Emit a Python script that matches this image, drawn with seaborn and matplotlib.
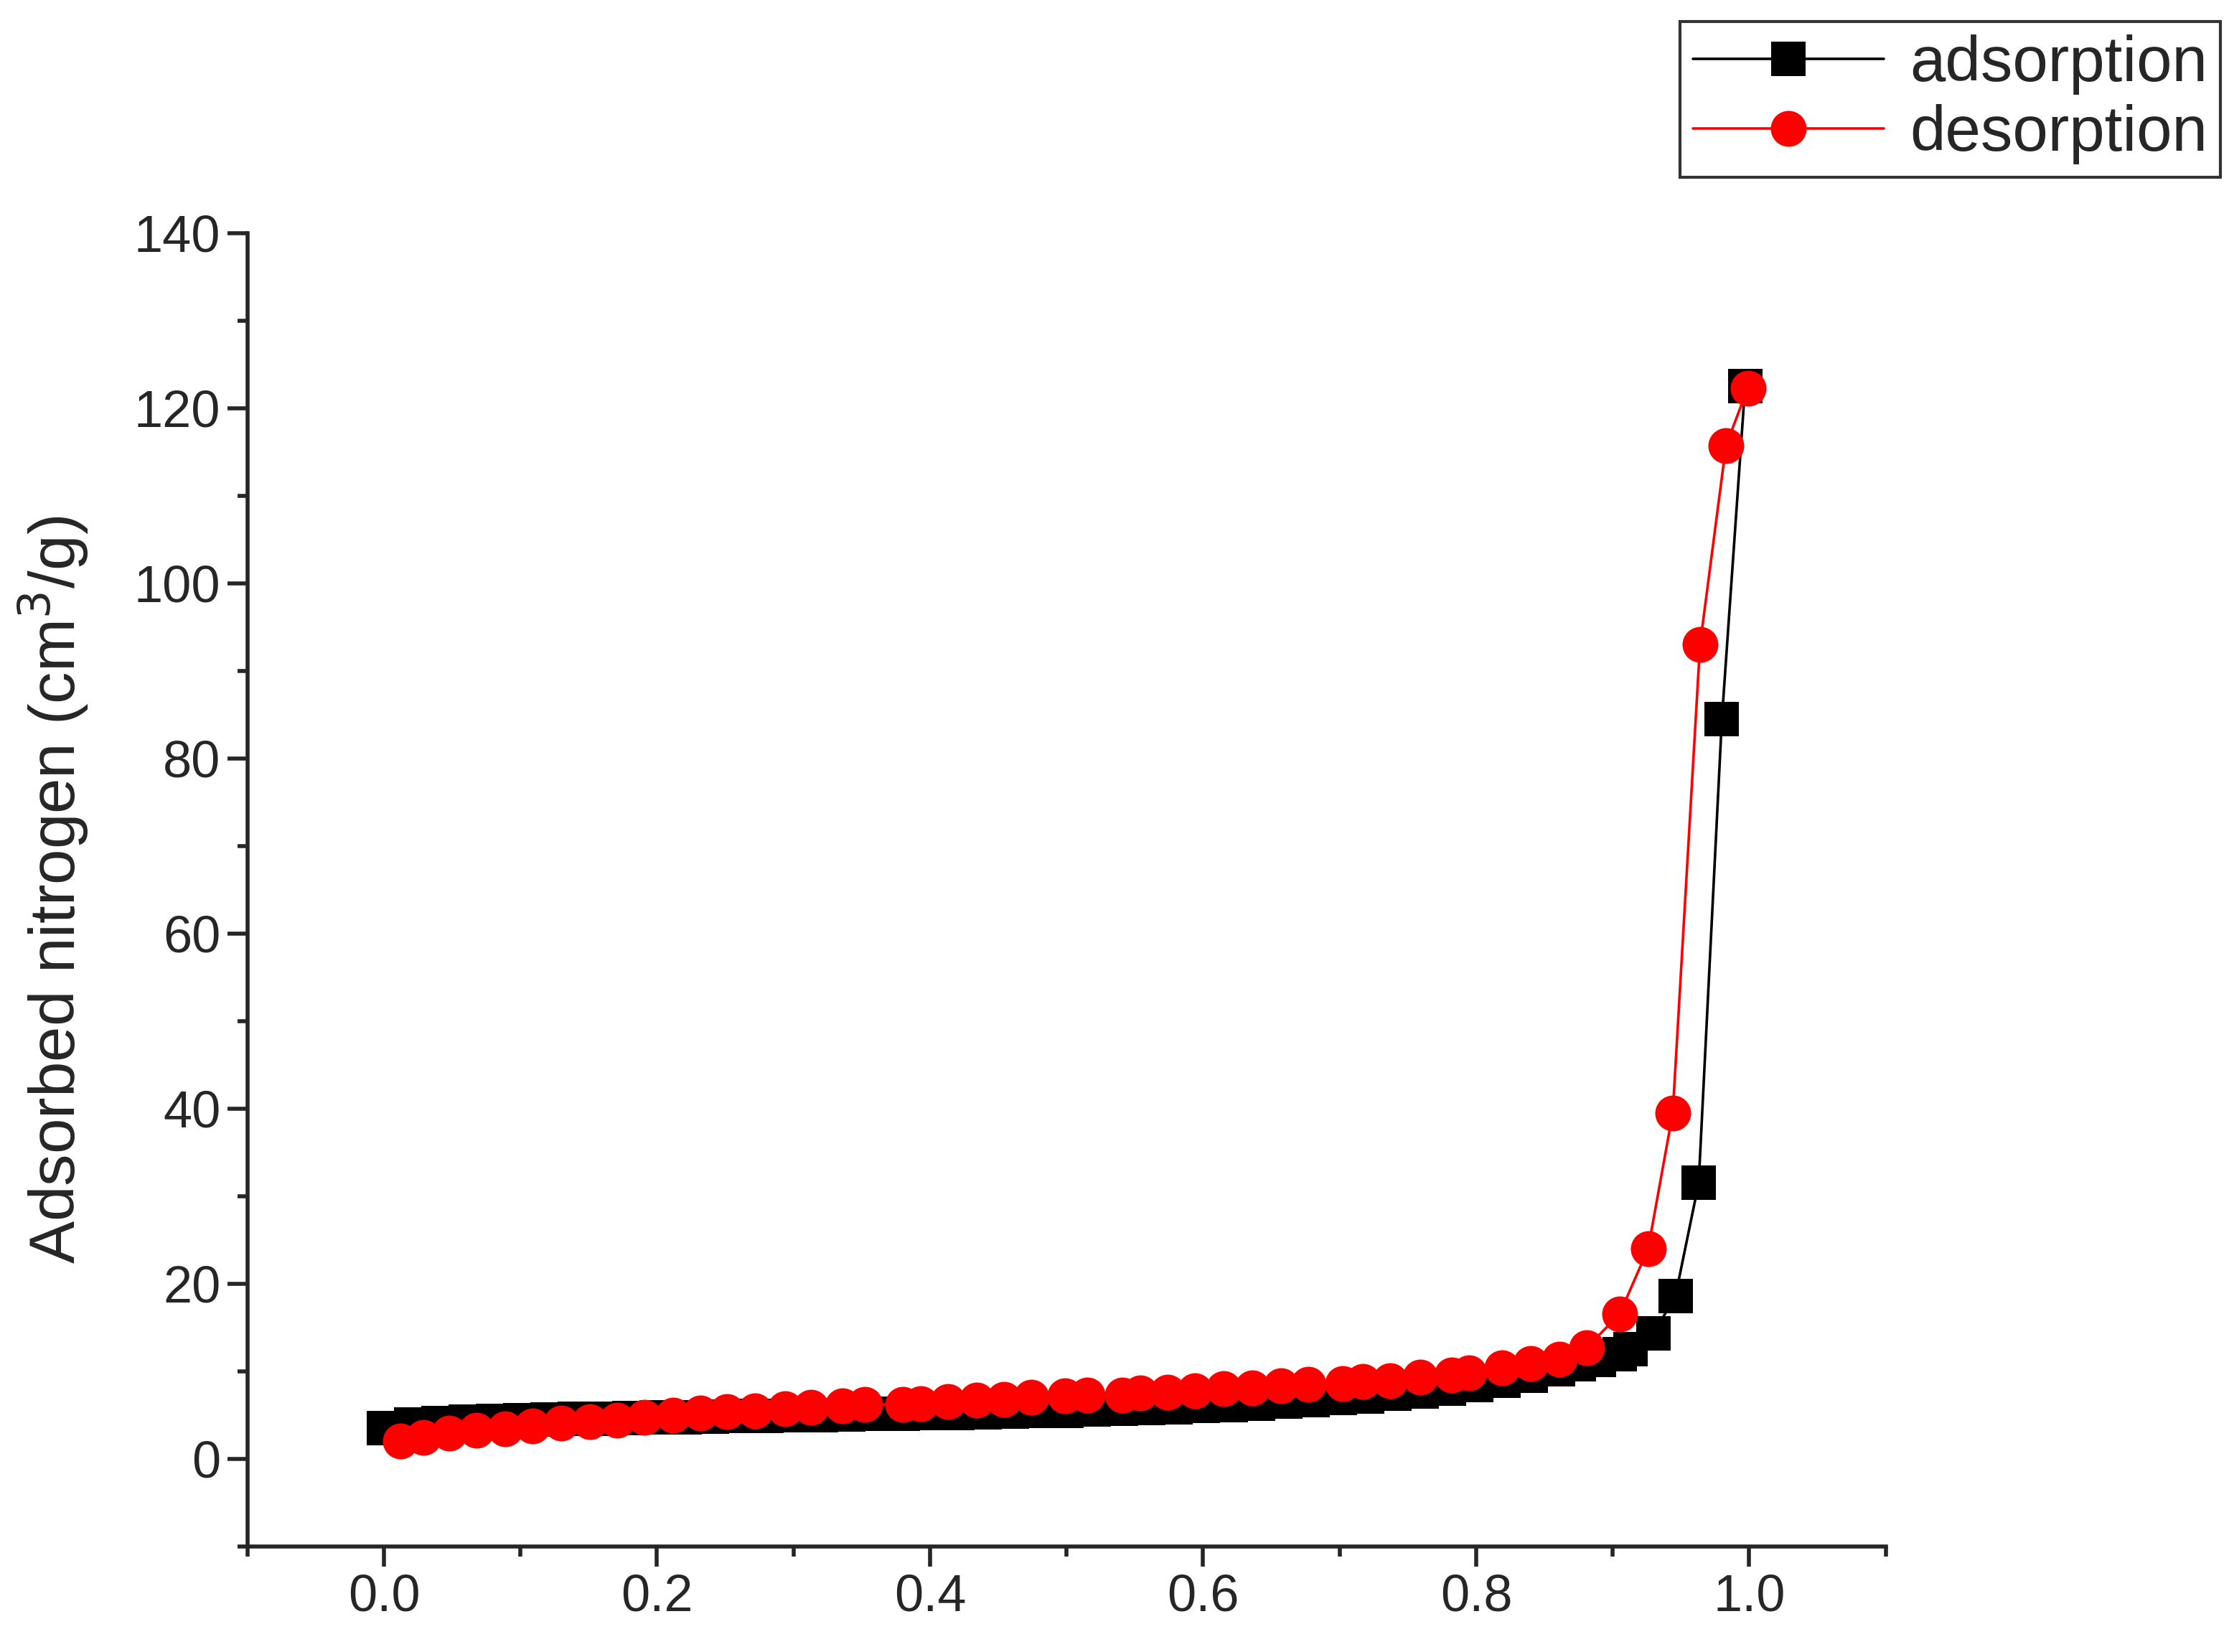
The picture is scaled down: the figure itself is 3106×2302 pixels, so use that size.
import numpy as np
import pandas as pd
import seaborn as sns
import matplotlib
matplotlib.use("Agg")
import matplotlib.pyplot as plt

ads_x = [0.0, 0.02, 0.04, 0.06, 0.08, 0.10, 0.12, 0.14, 0.16, 0.18, 0.20, 0.22, 0.24, 0.26, 0.28,
         0.30, 0.32, 0.34, 0.36, 0.38, 0.40, 0.42, 0.44, 0.46, 0.48, 0.50, 0.52, 0.54, 0.56, 0.58,
         0.60, 0.62, 0.64, 0.66, 0.68, 0.70, 0.72, 0.74, 0.76, 0.78, 0.80, 0.82, 0.84, 0.86, 0.875,
         0.89, 0.905, 0.913, 0.93, 0.946, 0.963, 0.98, 0.997]
ads_y = [3.5, 3.9, 4.1, 4.2, 4.3, 4.4, 4.5, 4.55, 4.6, 4.65, 4.7, 4.75, 4.8, 4.85, 4.9,
         4.95, 5.0, 5.05, 5.1, 5.15, 5.2, 5.25, 5.3, 5.4, 5.45, 5.5, 5.6, 5.7, 5.8, 5.9,
         6.0, 6.1, 6.3, 6.5, 6.7, 6.9, 7.1, 7.4, 7.7, 8.0, 8.4, 8.9, 9.5, 10.2, 10.8,
         11.3, 11.9, 12.5, 14.3, 18.6, 31.5, 84.5, 122.5]

des_x = [0.012, 0.029, 0.048, 0.068, 0.089, 0.109, 0.130, 0.151, 0.171, 0.191, 0.212, 0.232,
         0.251, 0.272, 0.294, 0.313, 0.336, 0.352, 0.380, 0.393, 0.413, 0.434, 0.454, 0.474,
         0.499, 0.515, 0.541, 0.554, 0.574, 0.594, 0.615, 0.636, 0.657, 0.677, 0.702, 0.717,
         0.737, 0.759, 0.782, 0.795, 0.819, 0.840, 0.861, 0.881, 0.905, 0.926, 0.944, 0.964,
         0.983, 0.999]
des_y = [2.0, 2.4, 2.9, 3.25, 3.4, 3.75, 4.05, 4.2, 4.4, 4.7, 5.0, 5.2,
         5.4, 5.5, 5.7, 5.85, 6.0, 6.2, 6.2, 6.3, 6.5, 6.7, 6.8, 7.0,
         7.15, 7.3, 7.3, 7.5, 7.6, 7.8, 8.0, 8.1, 8.3, 8.5, 8.6, 8.8,
         8.9, 9.3, 9.6, 9.8, 10.4, 10.9, 11.4, 12.7, 16.5, 24.0, 39.5, 93.0,
         115.7, 122.3]

sns.set_style("ticks")
plt.rcParams['font.family'] = ['Liberation Sans', 'DejaVu Sans']

fig = plt.figure(figsize=(15.53, 11.51), dpi=200)
ax = fig.add_axes([0.111, 0.064, 0.735, 0.795])

ads = pd.DataFrame({"x": ads_x, "y": ads_y})
des = pd.DataFrame({"x": des_x, "y": des_y})
sns.lineplot(data=ads, x="x", y="y", ax=ax, color="black", marker="s", markersize=17,
             markeredgewidth=0, linewidth=1.3, label="adsorption")
sns.lineplot(data=des, x="x", y="y", ax=ax, color="red", marker="o", markersize=18,
             markeredgewidth=0, linewidth=1.3, label="desorption")

ax.set_xlim(-0.1, 1.1)
ax.set_ylim(-10, 140)
ax.set_xticks(np.arange(0, 1.01, 0.2))
ax.set_xticks(np.arange(-0.1, 1.11, 0.1), minor=True)
ax.set_yticks(np.arange(0, 141, 20))
ax.set_yticks(np.arange(-10, 141, 10), minor=True)
ax.set_xticklabels([f"{v:.1f}" for v in np.arange(0, 1.01, 0.2)])
ax.tick_params(axis='both', which='major', labelsize=26, length=10, width=2, direction='out')
ax.tick_params(axis='both', which='minor', length=5, width=2, direction='out')
ax.set_xlabel("")
ax.set_ylabel("Adsorbed nitrogen (cm$^3$/g)", fontsize=32, labelpad=22)
sns.despine(ax=ax)
for s in ax.spines.values():
    s.set_linewidth(2)

ax.get_legend().remove()
h, l = ax.get_legend_handles_labels()
leg = fig.legend(h, l, loc="upper right", bbox_to_anchor=(0.996, 0.987), fontsize=32,
                 frameon=True, fancybox=False, edgecolor="black", handlelength=3,
                 borderpad=0.2, labelspacing=0.15, handletextpad=0.4, borderaxespad=0)
leg.get_frame().set_linewidth(1.5)

fig.savefig("out.png", dpi=200)
